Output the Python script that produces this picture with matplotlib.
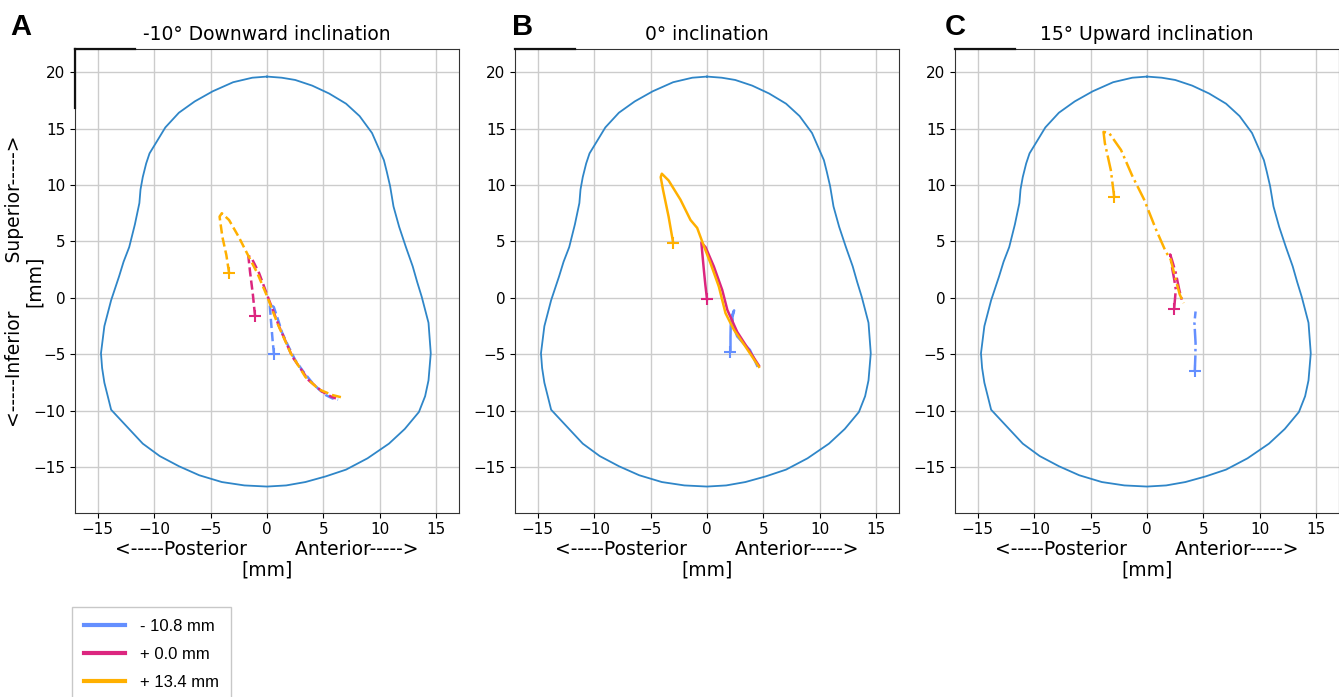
import matplotlib

matplotlib.use("Agg")
import matplotlib.pyplot as plt
from matplotlib.lines import Line2D

# cross-section outline (mm), shared by all three panels
outline_x = [0, -1.3, -3.0, -4.8, -6.4, -7.8, -9.0, -9.85, -10.4, -10.7, -11.0, -11.2, -11.3,
             -11.7, -12.2, -12.7, -13.1, -13.8, -14.4, -14.7, -14.6, -14.4, -14.1, -13.8,
             -12.4, -11.0, -9.5, -7.8, -6.0, -4.0, -2.0, 0, 1.7, 3.4, 5.2, 7.0, 8.9, 10.8,
             12.2, 13.45, 14.0, 14.3, 14.5, 14.3, 13.7, 13.3, 12.9, 12.3, 11.7, 11.2, 10.9,
             10.6, 10.35, 9.3, 8.2, 7.0, 5.5, 4.0, 2.5, 1.3, 0]
outline_y = [19.6, 19.5, 19.1, 18.3, 17.4, 16.4, 15.1, 13.7, 12.8, 11.9, 10.7, 9.6, 8.4,
             6.5, 4.5, 3.2, 1.9, -0.2, -2.5, -4.9, -6.2, -7.5, -8.7, -9.9,
             -11.4, -12.9, -14.0, -14.9, -15.7, -16.3, -16.6, -16.7, -16.6, -16.3, -15.8,
             -15.2, -14.2, -12.9, -11.6, -10.1, -8.7, -7.3, -4.9, -2.2, 0.1, 1.4, 2.8, 4.5,
             6.3, 8.1, 9.9, 11.2, 12.2, 14.6, 16.1, 17.2, 18.1, 18.8, 19.3, 19.5, 19.6]

offset_labels = ["- 10.8 mm", "+ 0.0 mm", "+ 13.4 mm"]
offset_colors = ["#648FFF", "#DC267F", "#FFB000"]

panel_letters = ["A", "B", "C"]
panel_titles = ["-10° Downward inclination", "0° inclination", "15° Upward inclination"]
panel_styles = ["--", "-", "-."]

# trajectories, first point = start marker
a_blue_x = [0.62, 0.5, 0.35, 0.24, 0.6, 1.0, 1.35, 1.9, 2.5, 3.2, 4.0, 4.6, 5.2, 5.8, 6.3]
a_blue_y = [-5.0, -3.8, -2.0, -0.55, -0.8, -2.0, -3.1, -4.3, -5.5, -6.5, -7.5, -8.1, -8.6, -8.9, -9.0]
a_mag_x = [-1.06, -1.25, -1.5, -1.65, -1.4, -0.7, 0.18, 1.06, 2.24, 3.0, 3.7, 4.9, 5.6, 6.1]
a_mag_y = [-1.6, 0.3, 2.3, 3.7, 3.6, 2.2, -0.18, -2.5, -5.2, -6.3, -7.3, -8.3, -8.7, -8.9]
a_org_x = [-3.36, -3.6, -3.95, -4.2, -4.0, -3.36, -2.5, -1.74, -0.86, 0.03, 0.9, 2.1, 3.4, 4.6, 5.8, 6.6]
a_org_y = [2.24, 3.8, 5.4, 7.2, 7.5, 6.9, 5.4, 3.9, 2.2, 0.1, -2.2, -4.9, -7.0, -8.1, -8.6, -8.8]

b_blue_x = [2.08, 2.08, 2.1, 2.2, 2.4, 2.25, 2.3, 2.67, 3.2, 3.8, 4.44]
b_blue_y = [-4.75, -3.5, -2.5, -1.6, -1.1, -1.7, -2.4, -3.4, -4.0, -4.6, -6.0]
b_mag_x = [0.0, -0.15, -0.28, -0.4, -0.5, -0.13, 0.6, 1.35, 1.8, 2.67, 3.7, 4.6]
b_mag_y = [-0.1, 1.2, 2.5, 3.8, 4.9, 4.5, 2.8, 0.7, -1.06, -3.0, -4.6, -6.0]
b_org_x = [-3.0, -3.4, -3.9, -4.1, -4.0, -3.4, -2.35, -1.46, -0.87, -0.43, 0.3, 1.05, 1.64, 2.37, 3.4, 4.6]
b_org_y = [4.9, 7.2, 9.6, 10.7, 11.0, 10.4, 8.7, 6.9, 6.2, 5.0, 3.1, 1.0, -1.35, -2.8, -4.3, -6.1]

c_blue_x = [4.23, 4.28, 4.3, 4.2, 4.3]
c_blue_y = [-6.5, -5.2, -4.0, -2.2, -1.2]
c_mag_x = [2.4, 2.55, 2.4, 2.25, 2.05, 2.2, 2.55, 2.85, 3.15]
c_mag_y = [-1.0, 0.75, 1.7, 2.5, 3.85, 3.4, 2.2, 0.75, -0.45]
c_org_x = [-2.9, -3.2, -3.73, -3.85, -3.35, -2.3, -1.3, -0.25, 0.78, 1.66, 2.1, 2.55, 2.9, 3.25]
c_org_y = [8.9, 11.3, 13.7, 14.7, 14.6, 13.1, 10.8, 8.7, 6.1, 4.1, 3.4, 1.6, 0.3, -0.45]

panel_tracks = [
    [(a_blue_x, a_blue_y), (a_mag_x, a_mag_y), (a_org_x, a_org_y)],
    [(b_blue_x, b_blue_y), (b_mag_x, b_mag_y), (b_org_x, b_org_y)],
    [(c_blue_x, c_blue_y), (c_mag_x, c_mag_y), (c_org_x, c_org_y)],
]

W, H = 1339, 697
fig = plt.figure(figsize=(W / 100, H / 100), dpi=100)

lefts = [75, 515, 955]
letter_x = [10, 512, 945]
for i, left in enumerate(lefts):
    ax = fig.add_axes([left / W, (H - 513) / H, 384 / W, 464 / H])
    ax.plot(outline_x, outline_y, color="#2f86c8", lw=1.3, zorder=2)
    for (tx, ty), color in zip(panel_tracks[i], offset_colors):
        ax.plot(tx, ty, color=color, lw=1.8, ls=panel_styles[i], zorder=3)
        ax.plot(tx[0], ty[0], marker="+", color=color, ms=9, mew=1.5, zorder=4)

    ax.set_xlim(-17, 17)
    ax.set_ylim(-19, 22)
    ax.set_aspect("equal")
    ax.set_xticks([-15, -10, -5, 0, 5, 10, 15])
    ax.set_yticks([-15, -10, -5, 0, 5, 10, 15, 20])
    ax.grid(True, color="#cccccc", lw=1.0)
    ax.set_axisbelow(True)
    ax.tick_params(labelsize=11)
    for spine in ax.spines.values():
        spine.set_color("#333333")
    ax.set_title(panel_titles[i], fontsize=13.5, pad=7)
    ax.set_xlabel("<-----Posterior        Anterior----->\n[mm]", fontsize=13.5, labelpad=2,
                  linespacing=1.1)
    if i == 0:
        ax.set_ylabel("<-----Inferior        Superior----->\n[mm]", fontsize=13.5,
                      linespacing=1.1)
        ax.yaxis.set_label_coords(-0.08, 0.5)

    # darker corner strokes along the top-left of each frame
    ax.plot([0, 0.155], [1, 1], transform=ax.transAxes, color="#111111", lw=1.6,
            clip_on=False, zorder=5)
    if i == 0:
        ax.plot([0, 0], [1, 0.873], transform=ax.transAxes, color="#111111", lw=1.6,
                clip_on=False, zorder=5)

    fig.text(letter_x[i] / W, 1 - 27 / H, panel_letters[i], fontsize=21, fontweight="bold",
             family="Liberation Sans", va="center", ha="left")

handles = [Line2D([], [], color=c, lw=3) for c in offset_colors]
fig.legend(handles, offset_labels, loc="upper left", bbox_to_anchor=(72 / W, 1 - 607 / H),
           prop={"family": "Liberation Sans", "size": 12}, frameon=True, fancybox=False,
           edgecolor="#bbbbbb", handlelength=2.5, handletextpad=0.9, labelspacing=0.8,
           borderpad=0.7, borderaxespad=0)

fig.savefig("out.png", dpi=100)
